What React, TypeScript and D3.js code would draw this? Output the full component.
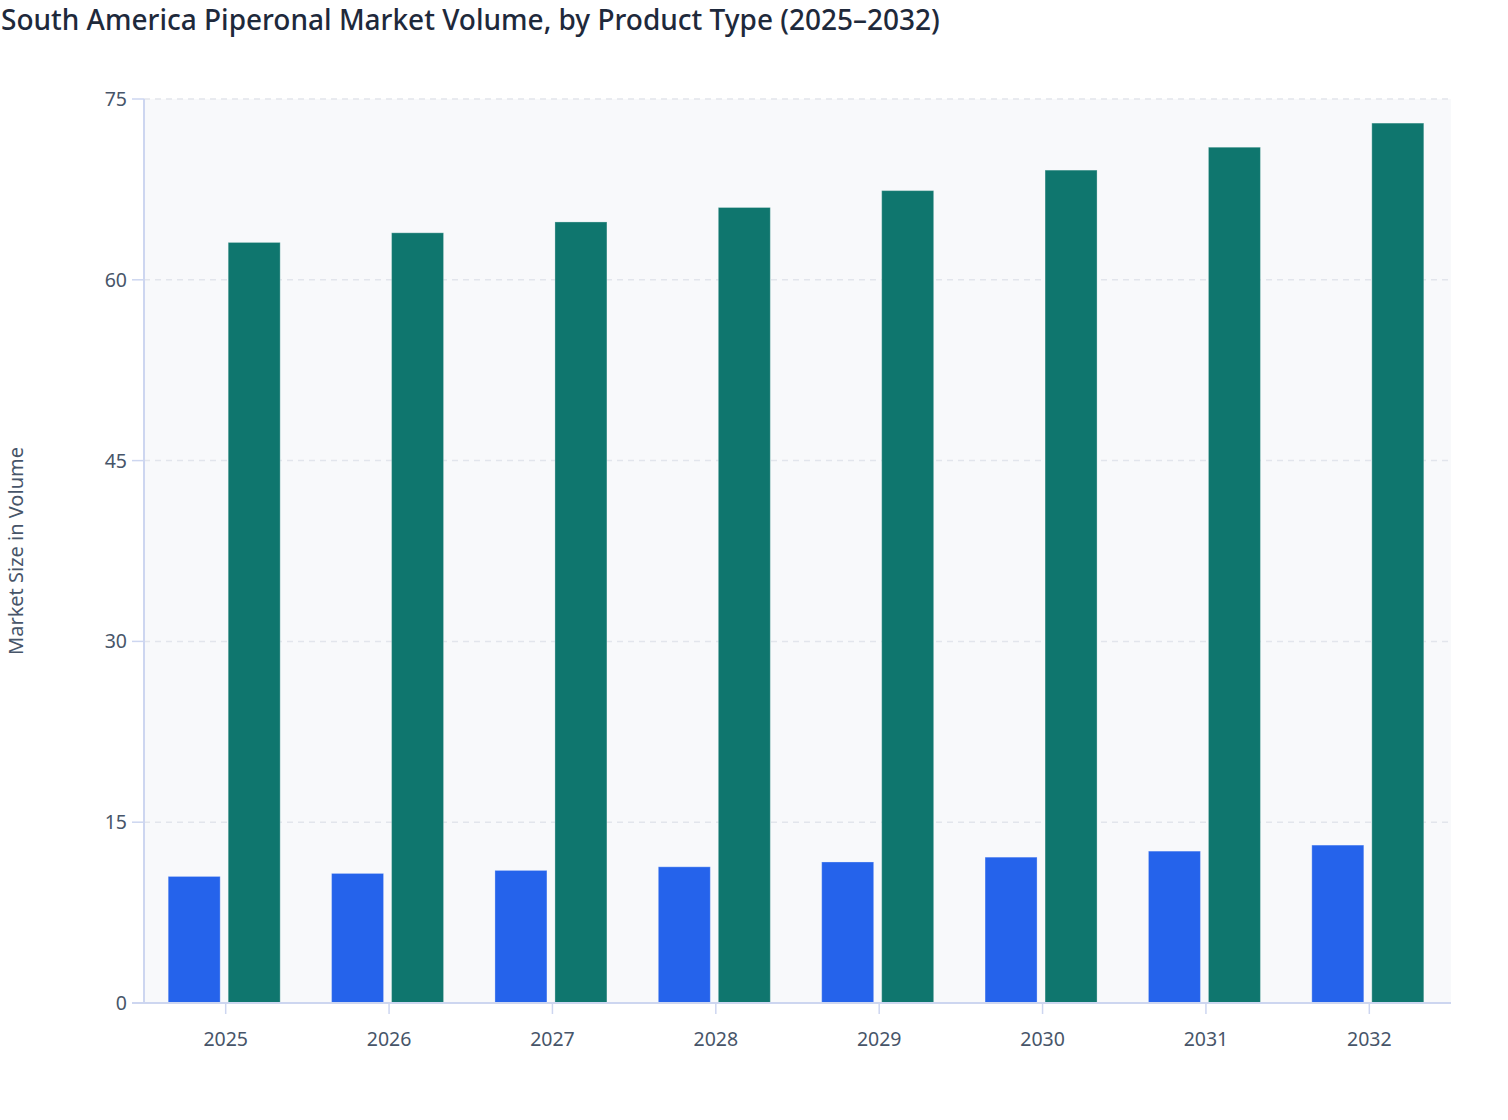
import * as d3 from "d3";
import React from "react";

const years = ["2025", "2026", "2027", "2028", "2029", "2030", "2031", "2032"];
const seriesA = [10.5, 10.75, 11.0, 11.3, 11.7, 12.1, 12.6, 13.1];
const seriesB = [63.1, 63.9, 64.8, 66.0, 67.4, 69.1, 71.0, 73.0];
const seriesColors = ["#2563eb", "#0f766e"];
const yTicks = [0, 15, 30, 45, 60, 75];

const TITLE = "South America Piperonal Market Volume, by Product Type (2025–2032)";
const Y_LABEL = "Market Size in Volume";

export default function App(): React.ReactElement {
  const width = 1508;
  const height = 1120;
  const margin = { bottom: 117, left: 144, right: 57, top: 99 };
  const innerW = width - margin.left - margin.right;
  const innerH = height - margin.top - margin.bottom;

  const x = d3.scaleBand<string>().domain(years).range([0, innerW]);
  const y = d3.scaleLinear().domain([0, 75]).range([innerH, 0]);

  const barW = 52;
  const barGap = 8;
  const font = "'Noto Sans', 'Open Sans', sans-serif";
  const series = [seriesA, seriesB];

  return (
    <div style={{ left: 0, position: "absolute", top: 0 }}>
      <svg height={height} width={width} style={{ display: "block" }}>
        <rect fill="#ffffff" height={height} width={width} />
        <text
          fill="#1e293b"
          fontFamily={font}
          fontSize={28}
          fontWeight={500}
          x={1}
          y={30}
        >
          {TITLE}
        </text>

        <g transform={`translate(${margin.left},${margin.top})`}>
          <rect fill="#f8f9fb" height={innerH} width={innerW} />

          {/* gridlines + y ticks */}
          {yTicks.map((t) => (
            <g key={`yt-${t}`} transform={`translate(0,${y(t)})`}>
              {t > 0 && (
                <line
                  stroke="#e2e5ec"
                  strokeDasharray="6 5"
                  strokeWidth={1.5}
                  x1={0}
                  x2={innerW}
                />
              )}
              <line stroke="#cdd6f0" strokeWidth={1.5} x1={-12} x2={0} />
              <text
                fill="#475569"
                fontFamily={font}
                fontSize={19.5}
                textAnchor="end"
                x={-17}
                y={7}
              >
                {t}
              </text>
            </g>
          ))}

          {/* bars */}
          {years.map((yr, i) => {
            const cx = (x(yr) ?? 0) + x.bandwidth() / 2 - 1.5;
            return series.map((s, k) => {
              const x0 = k === 0 ? cx - barGap / 2 - barW : cx + barGap / 2;
              return (
                <rect
                  fill={seriesColors[k]}
                  height={innerH - y(s[i])}
                  key={`${yr}-${k}`}
                  stroke="rgba(255,255,255,0.3)"
                  strokeWidth={1}
                  width={barW}
                  x={x0}
                  y={y(s[i])}
                />
              );
            });
          })}

          {/* axes */}
          <line stroke="#cdd6f0" strokeWidth={2} x1={0} x2={0} y1={0} y2={innerH} />
          <line stroke="#cdd6f0" strokeWidth={2} x1={-12} x2={innerW} y1={innerH} y2={innerH} />
          {years.map((yr) => {
            const cx = (x(yr) ?? 0) + x.bandwidth() / 2;
            return (
              <g key={`xt-${yr}`} transform={`translate(${cx},${innerH})`}>
                <line stroke="#cdd6f0" strokeWidth={1.5} y1={0} y2={11} />
                <text
                  fill="#475569"
                  fontFamily={font}
                  fontSize={19.5}
                  textAnchor="middle"
                  y={43}
                >
                  {yr}
                </text>
              </g>
            );
          })}
        </g>

        <text
          fill="#475569"
          fontFamily={font}
          fontSize={20}
          textAnchor="middle"
          transform={`translate(23,${margin.top + innerH / 2}) rotate(-90)`}
        >
          {Y_LABEL}
        </text>
      </svg>
    </div>
  );
}
